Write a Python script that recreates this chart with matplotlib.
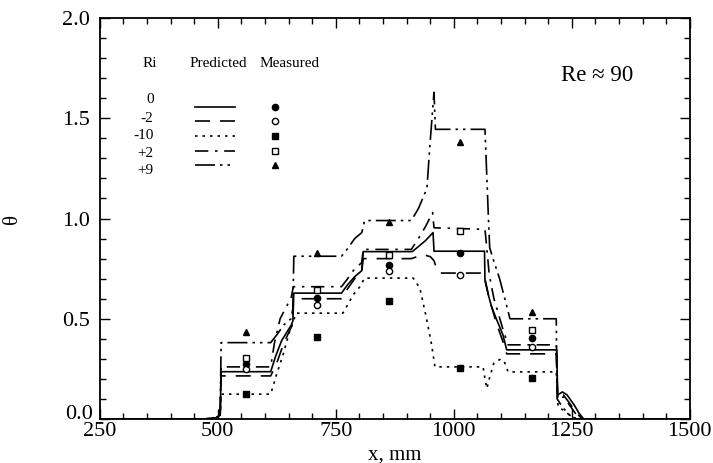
import matplotlib
matplotlib.use("Agg")
import matplotlib.pyplot as plt
from matplotlib.ticker import MultipleLocator, FuncFormatter

plt.rcParams["font.family"] = ["Liberation Serif", "DejaVu Serif"]

# predicted theta profiles
x_ri0 = [250, 470, 495, 505, 507, 612, 622, 635, 648, 656, 659, 661, 762, 775, 790, 805, 808, 912, 925, 940, 956, 958,
         1065, 1066, 1073, 1080, 1090, 1104, 1112, 1218, 1220, 1230, 1240, 1255, 1265, 1275, 1500]
t_ri0 = [0, 0, 0.005, 0.02, 0.236, 0.236, 0.31, 0.39, 0.44, 0.47, 0.49, 0.628, 0.628, 0.67, 0.71, 0.74, 0.835, 0.835, 0.86, 0.89, 0.93, 0.837,
         0.837, 0.69, 0.62, 0.56, 0.50, 0.42, 0.345, 0.345, 0.12, 0.135, 0.12, 0.07, 0.03, 0, 0]

x_rim2 = [250, 470, 495, 505, 507, 612, 625, 640, 652, 658, 660, 762, 775, 790, 805, 808, 910, 935, 950, 958, 962, 970,
          1062, 1066, 1075, 1090, 1105, 1112, 1217, 1220, 1232, 1245, 1260, 1272, 1500]
t_rim2 = [0, 0, 0.005, 0.02, 0.215, 0.215, 0.28, 0.38, 0.44, 0.47, 0.60, 0.60, 0.65, 0.70, 0.74, 0.80, 0.80, 0.82, 0.81, 0.79, 0.76, 0.728,
          0.728, 0.70, 0.60, 0.48, 0.38, 0.325, 0.325, 0.11, 0.12, 0.08, 0.03, 0, 0]

x_rim10 = [250, 470, 495, 505, 507, 612, 624, 638, 652, 666, 765, 787, 801, 811, 914, 928, 942, 953, 960,
           1062, 1066, 1070, 1075, 1085, 1100, 1108, 1115, 1217, 1221, 1235, 1250, 1265, 1500]
t_rim10 = [0, 0, 0.005, 0.02, 0.124, 0.124, 0.219, 0.319, 0.436, 0.528, 0.528, 0.62, 0.66, 0.703, 0.703, 0.653, 0.503, 0.37, 0.26,
           0.26, 0.20, 0.152, 0.20, 0.28, 0.30, 0.28, 0.235, 0.235, 0.06, 0.04, 0.01, 0, 0]

x_rip2 = [250, 470, 495, 505, 507, 612, 620, 632, 645, 655, 660, 762, 775, 790, 805, 808, 910, 925, 940, 955, 958,
          1066, 1070, 1075, 1085, 1095, 1105, 1115, 1217, 1220, 1232, 1245, 1260, 1272, 1500]
t_rip2 = [0, 0, 0.005, 0.02, 0.26, 0.26, 0.38, 0.50, 0.56, 0.60, 0.66, 0.66, 0.70, 0.75, 0.78, 0.846, 0.846, 0.90, 0.96, 1.03, 0.954,
          0.946, 0.85, 0.72, 0.60, 0.52, 0.44, 0.37, 0.37, 0.10, 0.11, 0.07, 0.02, 0, 0]

x_rip9 = [250, 470, 495, 505, 507, 612, 625, 640, 655, 659, 661, 762, 775, 790, 805, 811, 910, 925, 943, 949, 955, 958, 961,
          1066, 1073, 1076, 1083, 1097, 1119, 1217, 1219, 1230, 1245, 1260, 1500]
t_rip9 = [0, 0, 0.005, 0.02, 0.381, 0.381, 0.42, 0.47, 0.50, 0.55, 0.812, 0.812, 0.85, 0.90, 0.93, 0.99, 0.99, 1.05, 1.15, 1.355, 1.54, 1.63, 1.445,
          1.445, 1.02, 0.854, 0.80, 0.70, 0.50, 0.50, 0.10, 0.06, 0.02, 0, 0]

# measured values
x_meas = [560, 710, 862, 1013, 1165]
m_ri0 = [0.274, 0.603, 0.77, 0.829, 0.403]
m_rim2 = [0.247, 0.57, 0.737, 0.717, 0.361]
m_rim10 = [0.124, 0.411, 0.59, 0.252, 0.207]
m_rip2 = [0.306, 0.645, 0.817, 0.937, 0.445]
m_rip9 = [0.436, 0.829, 0.984, 1.38, 0.536]

ri_labels = ["0", "-2", "-10", "+2", "+9"]

series = [
    (x_ri0, t_ri0, m_ri0, "-", "o", "k"),
    (x_rim2, t_rim2, m_rim2, (0, (9, 6)), "o", "w"),
    (x_rim10, t_rim10, m_rim10, (0, (1.5, 3)), "s", "k"),
    (x_rip2, t_rip2, m_rip2, (0, (8, 4, 1.5, 4)), "s", "w"),
    (x_rip9, t_rip9, m_rip9, (0, (12, 3, 1.5, 3, 1.5, 3)), "^", "k"),
]

fig = plt.figure(figsize=(7.13, 4.63), dpi=100)
ax = fig.add_axes([0.140, 0.095, 0.8275, 0.866])

for xs, ts, ms, ls, mk, fc in series:
    ax.plot(xs, ts, color="k", lw=1.2, linestyle=ls)
    ax.plot(x_meas, ms, linestyle="none", marker=mk, ms=4.5, mfc=fc, mec="k", mew=1.0)

# hand-made legend, as in the original
ax.text(0.084, 0.886, "Ri", transform=ax.transAxes, ha="center", va="center", fontsize=11)
ax.text(0.200, 0.886, "Predicted", transform=ax.transAxes, ha="center", va="center", fontsize=11)
ax.text(0.322, 0.886, "Measured", transform=ax.transAxes, ha="center", va="center", fontsize=11)
label_y = [0.797, 0.749, 0.707, 0.662, 0.619]
sample_y = [0.779, 0.744, 0.705, 0.669, 0.634]
for i, (xs, ts, ms, ls, mk, fc) in enumerate(series):
    ax.text(0.091, label_y[i], ri_labels[i], transform=ax.transAxes, ha="right", va="center", fontsize=11)
    ax.plot([0.161, 0.229], [sample_y[i], sample_y[i]], transform=ax.transAxes, color="k", lw=1.2, linestyle=ls)
    ax.plot([0.297], [sample_y[i]], transform=ax.transAxes, linestyle="none", marker=mk, ms=4.5, mfc=fc, mec="k", mew=1.0)

ax.text(0.843, 0.857, "Re \u2248 90", transform=ax.transAxes, ha="center", va="center", fontsize=16.5)

ax.set_xlim(250, 1500)
ax.set_ylim(0, 2.0)
ax.xaxis.set_major_locator(MultipleLocator(250))
ax.xaxis.set_minor_locator(MultipleLocator(50))
ax.yaxis.set_major_locator(MultipleLocator(0.5))
ax.yaxis.set_minor_locator(MultipleLocator(0.1))
# "0.0" is drawn separately below, a bit higher so it clears "250"
ax.yaxis.set_major_formatter(FuncFormatter(lambda v, p: "" if abs(v) < 1e-9 else f"{v:.1f}"))
ax.tick_params(which="both", direction="in", top=True, right=True, labelsize=16, width=1.0)
ax.tick_params(which="major", length=7)
ax.tick_params(which="minor", length=4)
ax.tick_params(axis="x", which="major", pad=2)
ax.tick_params(axis="y", which="major", pad=7)
for sp in ax.spines.values():
    sp.set_linewidth(1.3)

ax.text(-0.012, 0.011, "0.0", transform=ax.transAxes, ha="right", va="center", fontsize=16)

ax.set_xlabel("x, mm", fontsize=15)
ax.xaxis.set_label_coords(0.5, -0.065)
ax.set_ylabel("\u03b8", fontsize=15, rotation=90)
ax.yaxis.set_label_coords(-0.132, 0.5)

fig.savefig("out.png", dpi=100)
